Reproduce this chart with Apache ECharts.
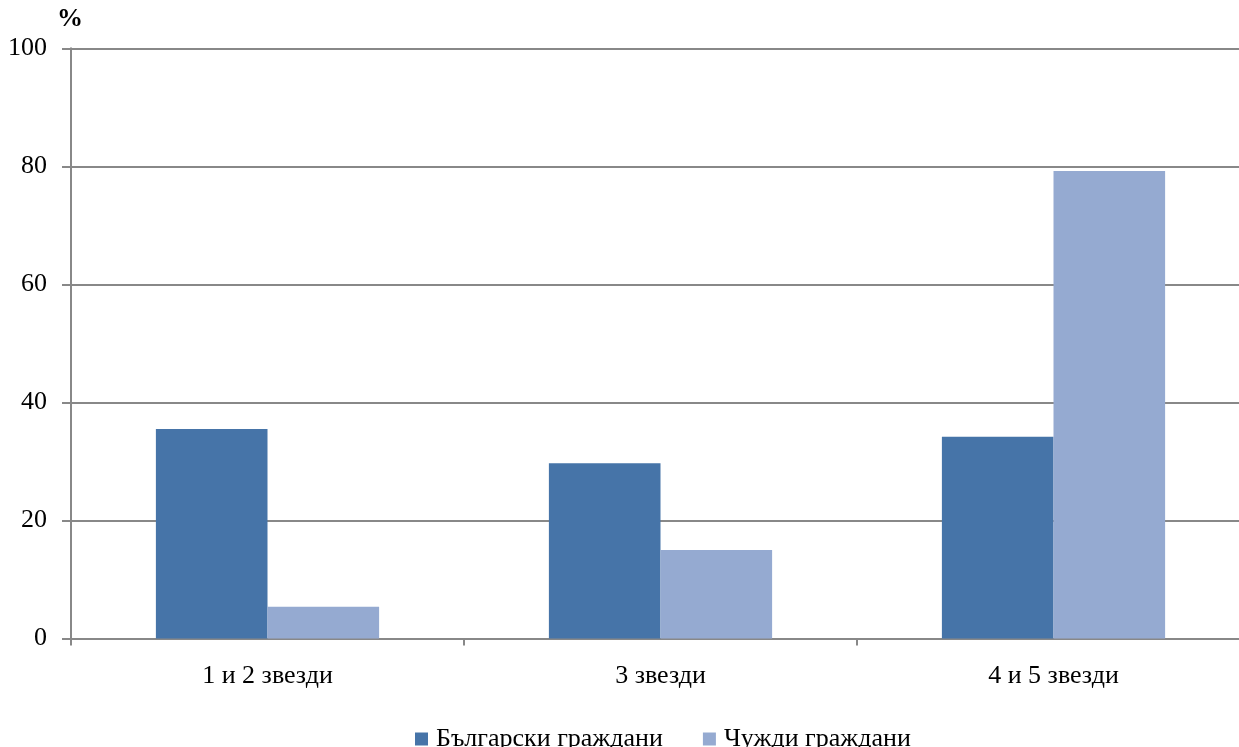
<!DOCTYPE html>
<html><head><meta charset="utf-8">
<script src="https://cdn.jsdelivr.net/npm/echarts@6/dist/echarts.min.js"></script>
<style>html,body{margin:0;padding:0;background:#fff;overflow:hidden;width:1239px;height:747px}#c{width:1250px;height:747px}</style>
</head><body><div id="c"></div>
<script>
const categories = ['1 и 2 звезди', '3 звезди', '4 и 5 звезди'];
const seriesNames = ['Български граждани', 'Чужди граждани'];
const bulgarian = [35.5, 29.7, 34.2];
const foreign = [5.4, 15.0, 79.2];
const font = '"Liberation Serif", "DejaVu Serif", serif';
const chart = echarts.init(document.getElementById('c'));
chart.setOption({
  animation: false,
  textStyle: { fontFamily: font },
  grid: { left: 71, right: 0, top: 48.3, height: 590.2, containLabel: false },
  title: { text: '%', left: 52, top: 1, textStyle: { fontFamily: font, fontSize: 26, fontWeight: 'bold', color: '#000' } },
  legend: {
    left: 410, top: 721, itemWidth: 13, itemHeight: 13, itemGap: 40,
    icon: 'rect',
    textStyle: { fontFamily: font, fontSize: 26, color: '#000', padding: [0, 0, 0, 3] },
    data: seriesNames
  },
  xAxis: {
    type: 'category', data: categories,
    axisLine: { lineStyle: { color: '#888', width: 2 } },
    axisTick: { show: true, length: 7, lineStyle: { color: '#888', width: 2 } },
    axisLabel: { fontFamily: font, fontSize: 26, color: '#000', margin: 25 }
  },
  yAxis: {
    type: 'value', min: 0, max: 100, interval: 20,
    axisLine: { show: true, lineStyle: { color: '#888', width: 2 } },
    axisTick: { show: true, length: 9, lineStyle: { color: '#888', width: 2 } },
    splitLine: { lineStyle: { color: '#888', width: 2 } },
    axisLabel: { fontFamily: font, fontSize: 26, color: '#000', margin: 24 }
  },
  series: [
    { name: seriesNames[0], type: 'bar', data: bulgarian, barWidth: '28.4%', barGap: '0%', itemStyle: { color: '#4674A8' } },
    { name: seriesNames[1], type: 'bar', data: foreign, barWidth: '28.4%', itemStyle: { color: '#95AAD1' } }
  ]
});
</script></body></html>
